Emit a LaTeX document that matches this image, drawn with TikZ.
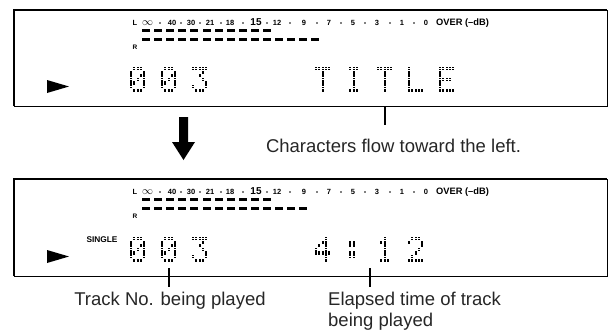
\documentclass[tikz,border=0pt]{standalone}
\usepackage{fontspec}
\setmainfont{Liberation Sans}
% dot-matrix character: #1 = x, #2 = y (top-left), #3 = glyph spec
\newcommand\dmchar[3]{%
  \foreach \rr/\cc in #3 {%
    \foreach \c in \cc {%
      \foreach \dy in {0,1.8}{%
        \fill[dotc] ({#1+\c*3.25},{#2+\rr*3.6+\dy}) rectangle ++(2.2,1.3);}}}}
\newcommand\glZero{0/{1,2,3},1/{0,4},2/{0,3,4},3/{0,2,4},4/{0,1,4},5/{0,4},6/{1,2,3}}
\newcommand\glThree{0/{0,1,2,3,4},1/{3},2/{2},3/{3},4/{4},5/{0,4},6/{1,2,3}}
\newcommand\glT{0/{0,1,2,3,4},1/{2},2/{2},3/{2},4/{2},5/{2},6/{2}}
\newcommand\glI{0/{1,2,3},1/{2},2/{2},3/{2},4/{2},5/{2},6/{1,2,3}}
\newcommand\glL{0/{0},1/{0},2/{0},3/{0},4/{0},5/{0},6/{0,1,2,3,4}}
\newcommand\glE{0/{0,1,2,3,4},1/{0},2/{0},3/{0,1,2,3},4/{0},5/{0},6/{0,1,2,3,4}}
\newcommand\glFour{0/{3},1/{2,3},2/{1,3},3/{0,3},4/{0,1,2,3,4},5/{3},6/{3}}
\newcommand\glColon{1/{1,2},2/{1,2},4/{1,2},5/{1,2}}
\newcommand\glOne{0/{2},1/{1,2},2/{2},3/{2},4/{2},5/{2},6/{1,2,3}}
\newcommand\glTwo{0/{1,2,3},1/{0,4},2/{4},3/{3},4/{2},5/{1},6/{0,1,2,3,4}}
% level meter: #1 = top y of panel, #2 = number of R dashes, #3 = name prefix
\newcommand\meterrow[3]{%
  \node[lbl] (#3L) at (135,#1+13) {L};
  \node[lbl,font=\fontsize{6.5}{7}\selectfont\bfseries] (#3R) at (135,#1+37) {R};
  \node[lbl,font=\fontsize{10.5}{10}\selectfont] (#3inf) at (147.5,#1+13.5) {$\infty$};
  \foreach \t/\xx [count=\k] in {40/172,30/191,21/210,18/230,12/277,9/304,7/329,5/353,3/377,1/402,0/426}
     \node[lbl] (#3n\k) at (\xx,#1+13) {\t};
  \node[lbl,font=\fontsize{10}{10}\selectfont\bfseries] (#3f) at (256,#1+12) {15};
  \foreach \xx in {160,181,200,221,243,267,290,317,341,365,390,414}
     \fill (\xx,#1+13) circle (0.9);
  \node[lbl,anchor=west,font=\fontsize{9.3}{10}\selectfont\bfseries] (#3over) at (436,#1+13) {OVER (–dB)};
  \foreach \k in {0,...,10} \fill ({142+\k*12.1},#1+18.5) rectangle ++(8,3);
  \foreach \k in {1,...,#2} \fill ({142+(\k-1)*12.1},#1+28) rectangle ++(8,3);
}
\begin{document}
\begin{tikzpicture}[x=1pt,y=-1pt,
  dotc/.style={black},
  panel/.style={draw=none,minimum width=593pt,minimum height=96pt,anchor=north west,inner sep=0pt},
  panelline/.style={line width=1.2pt},
  panelthick/.style={line width=1.8pt},
  lbl/.style={font=\fontsize{7.5}{8}\selectfont\bfseries,inner sep=0pt},
  captext/.style={font=\fontsize{18.5}{25}\selectfont,text=black!85,inner sep=0pt,anchor=base},
  tickline/.style={line width=1.2pt},
  playtri/.style={fill=black}]
\useasboundingbox (0,0) rectangle (613,335);

% ---------- panel 1 ----------
\node[panel] (p1) at (14,10) {};
\draw[panelline] (p1.south west) -- (p1.north west) -- (p1.north east);
\draw[panelthick] (p1.north east) -- (p1.south east) -- (p1.south west);
\meterrow{10}{15}{a}
\fill[playtri] (47,80) -- (69,86.5) -- (47,93) -- cycle;
\dmchar{130}{67}{\glZero}
\dmchar{161}{67}{\glZero}
\dmchar{192}{67}{\glThree}
\dmchar{315}{67}{\glT}
\dmchar{346}{67}{\glI}
\dmchar{377}{67}{\glT}
\dmchar{408}{67}{\glL}
\dmchar{439}{67}{\glE}
\coordinate (t1a) at (385,106);
\coordinate (t1b) at (385,125);
\draw[tickline] (t1a) -- (t1b);
\node[captext] (c1) at (393.5,152) {Characters flow toward the left.};

% ---------- arrow ----------
\fill (179,117) -- (188,117) -- (188,142) -- (195,142) -- (183.5,160) -- (172,142) -- (179,142) -- cycle;

% ---------- panel 2 ----------
\node[panel,minimum height=97pt] (p2) at (14,179) {};
\draw[panelline] (p2.south west) -- (p2.north west) -- (p2.north east);
\draw[panelthick] (p2.north east) -- (p2.south east) -- (p2.south west);
\meterrow{179}{14}{b}
\fill[playtri] (47,250) -- (69,256.5) -- (47,263) -- cycle;
\node[lbl,font=\fontsize{8.3}{9}\selectfont\bfseries] (single) at (102,240) {SINGLE};
\dmchar{130}{237}{\glZero}
\dmchar{161}{237}{\glZero}
\dmchar{192}{237}{\glThree}
\dmchar{315}{237}{\glFour}
\dmchar{346}{237}{\glColon}
\dmchar{377}{237}{\glOne}
\dmchar{408}{237}{\glTwo}
\coordinate (t2a) at (169,268);
\coordinate (t2b) at (169,287);
\coordinate (t3a) at (370,268);
\coordinate (t3b) at (370,287);
\draw[tickline] (t2a) -- (t2b);
\draw[tickline] (t3a) -- (t3b);
\node[captext] (c2) at (170,305) {Track No. being played};
\node[captext,anchor=base west] (c3) at (328,305) {Elapsed time of track};
\node[captext,anchor=base west] (c4) at (328,326) {being played};
\end{tikzpicture}
\end{document}
